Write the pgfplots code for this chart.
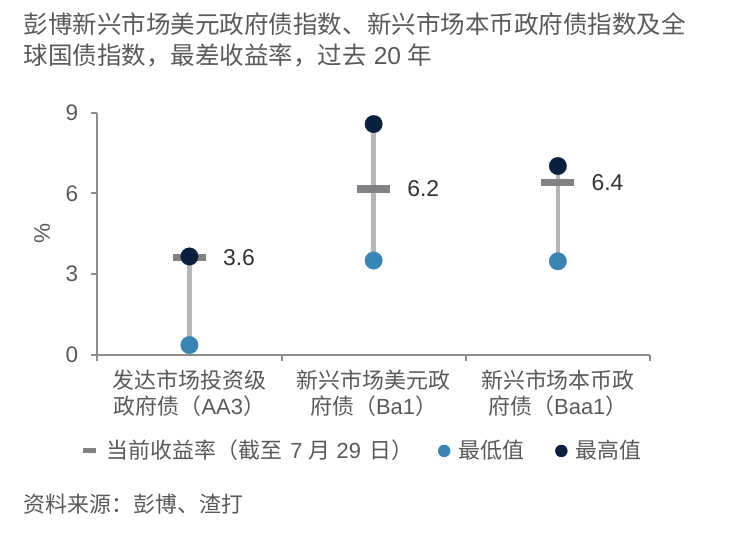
\documentclass[border=0pt]{standalone}
\usepackage{fontspec}
\setmainfont{Liberation Sans}
\newfontfamily\cjk{Noto Sans CJK SC}
\usepackage{pgfplots}
\pgfplotsset{compat=1.18}
\definecolor{navy}{HTML}{0B1F3F}
\definecolor{lowblue}{HTML}{3A84B4}
\definecolor{curgrey}{HTML}{808285}
\definecolor{linegrey}{HTML}{B4B6B9}
\definecolor{axisgrey}{HTML}{8C8C8C}
\definecolor{txtgrey}{HTML}{595959}
\definecolor{lblcol}{HTML}{333333}
\begin{document}
\begin{tikzpicture}[x=1bp,y=1bp]
\path[use as bounding box] (0,0) rectangle (369,270);
\node[anchor=west, inner sep=0pt, text=txtgrey, font=\fontsize{12.3}{15}\selectfont\cjk] at (11.75,258) {彭博新兴市场美元政府债指数、新兴市场本币政府债指数及全};
\node[anchor=west, inner sep=0pt, text=txtgrey, font=\fontsize{12.3}{15}\selectfont] at (11.75,242.5) {{\cjk 球国债指数，最差收益率，过去} 20 {\cjk 年}};
\node[anchor=west, inner sep=0pt, text=txtgrey, font=\fontsize{11}{13}\selectfont\cjk] at (11.75,18) {资料来源：彭博、渣打};
\begin{axis}[
  at={(48.65bp,92.5bp)}, anchor=south west,
  width=276.35bp, height=121.15bp, scale only axis,
  xmin=-0.5, xmax=2.5, ymin=0, ymax=9,
  axis x line*=bottom, axis y line*=left,
  axis line style={draw=axisgrey, line width=1bp, -},
  ytick={0,3,6,9},
  xtick={0,1,2},
  xticklabels={{{\cjk 发达市场投资级}\\{\cjk 政府债（}AA3{\cjk ）}},{{\cjk 新兴市场美元政}\\{\cjk 府债（}Ba1{\cjk ）}},{{\cjk 新兴市场本币政}\\{\cjk 府债（}Baa1{\cjk ）}}},
  minor xtick={-0.5,0.5,1.5,2.5},
  tick align=outside,
  major tick length=3bp, minor tick length=3bp,
  tick style={draw=axisgrey, line width=1bp},
  major x tick style={draw=none},
  minor x tick style={draw=axisgrey, line width=1bp},
  /pgf/number format/assume math mode=true,
  yticklabel style={font=\fontsize{11.3}{13}\selectfont, text=txtgrey, xshift=-3bp},
  xticklabel style={align=center, font=\fontsize{11}{13}\selectfont, text=txtgrey, yshift=-1bp},
  ylabel={\%},
  ylabel style={at={(axis description cs:-0.1,0.5)}, anchor=center, font=\fontsize{11.3}{13}\selectfont, text=txtgrey},
  clip=false,
  legend columns=3,
  legend cell align=left,
  legend style={at={(axis description cs:-0.0295,-0.396)}, anchor=west, draw=none, fill=none,
    inner sep=0pt, outer sep=0pt,
    font=\fontsize{11}{13}\selectfont, text=txtgrey,
    /tikz/every even column/.append style={column sep=12.5bp},
    /tikz/every odd column/.append style={column sep=4bp},
    nodes={inner sep=0pt}},
]
\addplot[linegrey, line width=2.35bp, forget plot] coordinates {(0,0.37) (0,3.66)};
\addplot[linegrey, line width=2.35bp, forget plot] coordinates {(1,3.51) (1,8.58)};
\addplot[linegrey, line width=2.35bp, forget plot] coordinates {(2,3.48) (2,7.02)};
\addplot[curgrey, only marks, mark=-, mark size=8.2bp, mark options={line width=3.65bp, draw=curgrey},
  nodes near coords, point meta=explicit symbolic,
  nodes near coords style={anchor=west, xshift=15bp, inner sep=0pt, font=\fontsize{11.5}{13}\selectfont, text=lblcol},
  legend image code/.code={\draw[line width=2.5bp, draw=curgrey] (0bp,0bp) -- (6.5bp,0bp);}]
  coordinates {(0,3.62) [3.6] (1,6.17) [6.2] (2,6.4) [6.4]};
\addlegendentry{{\cjk 当前收益率（截至}\hspace{1bp} 7 {\cjk 月} 29 \hspace{1bp}{\cjk 日）}}
\addplot[lowblue, only marks, mark=*, mark size=4.4bp, mark options={draw=lowblue, fill=lowblue, line width=0.1bp},
  legend image code/.code={\fill[lowblue] (2.9bp,0bp) circle (2.9bp);}]
  coordinates {(0,0.37) (1,3.51) (2,3.48)};
\addlegendentry{{\cjk 最低值}\kern3bp\null}
\addplot[navy, only marks, mark=*, mark size=4.4bp, mark options={draw=navy, fill=navy, line width=0.1bp},
  legend image code/.code={\fill[navy] (2.9bp,0bp) circle (2.9bp);}]
  coordinates {(0,3.66) (1,8.58) (2,7.02)};
\addlegendentry{{\cjk 最高值}}
\end{axis}
\end{tikzpicture}
\end{document}
